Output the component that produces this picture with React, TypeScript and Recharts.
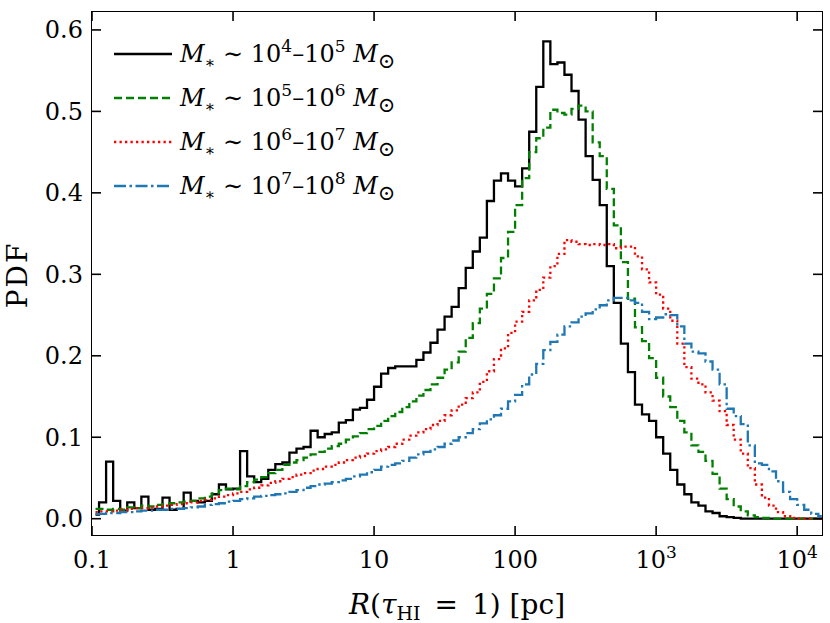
import { Legend, Line, LineChart, XAxis, YAxis } from "recharts";

// histogram bins: log10(R/pc) from -1, width 0.05 dex
const BIN_LOG_START = -1;
const BIN_LOG_WIDTH = 0.05;

const pdfM4to5 = [
  0.005, 0.02, 0.07, 0.022, 0.01, 0.02, 0.013, 0.027, 0.011, 0.012,
  0.026, 0.011, 0.012, 0.032, 0.022, 0.02, 0.022, 0.03, 0.042, 0.036,
  0.037, 0.083, 0.052, 0.045, 0.049, 0.06, 0.067, 0.069, 0.081, 0.086,
  0.088, 0.108, 0.1, 0.104, 0.106, 0.118, 0.121, 0.134, 0.136, 0.146,
  0.162, 0.178, 0.185, 0.187, 0.187, 0.187, 0.195, 0.204, 0.216, 0.232,
  0.248, 0.26, 0.283, 0.308, 0.328, 0.345, 0.39, 0.415, 0.424, 0.415,
  0.408, 0.43, 0.475, 0.53, 0.586, 0.558, 0.56, 0.545, 0.525, 0.49,
  0.445, 0.416, 0.385, 0.31, 0.265, 0.215, 0.18, 0.14, 0.128, 0.12,
  0.1, 0.08, 0.06, 0.042, 0.03, 0.02, 0.016, 0.009, 0.007, 0.003,
  0.002, 0.001, 0, 0, 0, 0, 0, 0, 0, 0,
  0, 0, 0, 0,
];

const pdfM5to6 = [
  0.012, 0.012, 0.011, 0.012, 0.011, 0.014, 0.013, 0.016, 0.015, 0.017,
  0.018, 0.019, 0.02, 0.021, 0.022, 0.025, 0.027, 0.031, 0.035, 0.037,
  0.036, 0.04, 0.045, 0.048, 0.051, 0.056, 0.06, 0.066, 0.069, 0.072,
  0.075, 0.079, 0.082, 0.086, 0.089, 0.092, 0.097, 0.101, 0.105, 0.11,
  0.114, 0.12, 0.126, 0.131, 0.137, 0.144, 0.151, 0.158, 0.165, 0.173,
  0.183, 0.192, 0.205, 0.222, 0.24, 0.258, 0.276, 0.295, 0.32, 0.352,
  0.385, 0.418, 0.45, 0.467, 0.48, 0.502, 0.498, 0.496, 0.503, 0.507,
  0.5, 0.462, 0.445, 0.405, 0.36, 0.315, 0.27, 0.235, 0.218, 0.197,
  0.173, 0.15, 0.137, 0.12, 0.106, 0.09, 0.082, 0.071, 0.055, 0.037,
  0.024, 0.015, 0.009, 0.004, 0.002, 0.001, 0, 0, 0, 0,
  0, 0, 0, 0,
];

const pdfM6to7 = [
  0.008, 0.009, 0.009, 0.01, 0.011, 0.012, 0.013, 0.013, 0.014, 0.015,
  0.016, 0.017, 0.018, 0.019, 0.02, 0.022, 0.023, 0.025, 0.027, 0.029,
  0.031, 0.033, 0.036, 0.038, 0.041, 0.044, 0.046, 0.049, 0.051, 0.054,
  0.056, 0.059, 0.061, 0.064, 0.066, 0.069, 0.072, 0.075, 0.077, 0.08,
  0.083, 0.085, 0.088, 0.092, 0.097, 0.102, 0.106, 0.11, 0.115, 0.12,
  0.127, 0.133, 0.14, 0.148, 0.155, 0.168, 0.181, 0.196, 0.209, 0.228,
  0.242, 0.254, 0.268, 0.281, 0.296, 0.31, 0.325, 0.342, 0.34, 0.337,
  0.336, 0.337, 0.336, 0.337, 0.332, 0.334, 0.334, 0.322, 0.306, 0.29,
  0.275, 0.258, 0.243, 0.215, 0.186, 0.172, 0.165, 0.155, 0.145, 0.132,
  0.115, 0.097, 0.08, 0.062, 0.042, 0.026, 0.016, 0.008, 0.003, 0.001,
  0, 0, 0, 0,
];

const pdfM7to8 = [
  0.006, 0.006, 0.007, 0.007, 0.008, 0.008, 0.009, 0.01, 0.01, 0.011,
  0.011, 0.012, 0.012, 0.013, 0.014, 0.015, 0.017, 0.018, 0.019, 0.021,
  0.022, 0.024, 0.025, 0.027, 0.028, 0.029, 0.03, 0.031, 0.033, 0.035,
  0.038, 0.04, 0.042, 0.043, 0.045, 0.047, 0.049, 0.052, 0.054, 0.057,
  0.06, 0.064, 0.066, 0.068, 0.071, 0.075, 0.079, 0.082, 0.085, 0.088,
  0.092, 0.096, 0.1, 0.105, 0.11, 0.117, 0.122, 0.127, 0.135, 0.144,
  0.152, 0.165, 0.177, 0.19, 0.207, 0.217, 0.226, 0.236, 0.241, 0.248,
  0.252, 0.257, 0.262, 0.268, 0.271, 0.271, 0.268, 0.265, 0.254, 0.245,
  0.247, 0.251, 0.25, 0.236, 0.215, 0.205, 0.203, 0.193, 0.183, 0.165,
  0.135, 0.126, 0.116, 0.09, 0.068, 0.066, 0.058, 0.046, 0.033, 0.024,
  0.017, 0.011, 0.006, 0.003,
];

const xTicks = [0.1, 1, 10, 100, 1000, 10000];
const xTickBase = ["0.1", "1", "10", "100", "10", "10"];
const xTickExp = ["", "", "", "", "3", "4"];
const yTicks = [0, 0.1, 0.2, 0.3, 0.4, 0.5, 0.6];

const series = [
  { key: "m4", values: pdfM4to5, color: "#000000", dash: undefined, lo: "4", hi: "5" },
  { key: "m5", values: pdfM5to6, color: "#008000", dash: "8 4", lo: "5", hi: "6" },
  { key: "m6", values: pdfM6to7, color: "#ff0000", dash: "2.3 3.2", lo: "6", hi: "7" },
  { key: "m7", values: pdfM7to8, color: "#1f77b4", dash: "12 3.5 2.5 3.5", lo: "7", hi: "8" },
];

const data = pdfM4to5.map((_, i) => {
  const row: Record<string, number> = {
    r: Math.pow(10, BIN_LOG_START + BIN_LOG_WIDTH * (i + 0.5)),
  };
  series.forEach((s) => (row[s.key] = s.values[i]));
  return row;
});

const FONT = "'DejaVu Serif', serif";
const W = 830;
const H = 623;
const PLOT_LEFT = 92;
const PLOT_TOP = 12;
const PLOT_RIGHT = 822;
const PLOT_BOTTOM = 535;
const TICK_LEN = 9;

function XTick({ x, payload }: any) {
  const i = xTicks.indexOf(payload.value);
  return (
    <g>
      <line x1={x} x2={x} y1={PLOT_BOTTOM} y2={PLOT_BOTTOM - TICK_LEN} stroke="#000" strokeWidth={1.6} />
      <line x1={x} x2={x} y1={PLOT_TOP} y2={PLOT_TOP + TICK_LEN} stroke="#000" strokeWidth={1.6} />
      <text x={x} y={PLOT_BOTTOM + 33} textAnchor="middle" fontFamily={FONT} fontSize={24} fill="#000">
        {xTickBase[i]}
        {xTickExp[i] && (
          <tspan dy={-10} fontSize={17}>
            {xTickExp[i]}
          </tspan>
        )}
      </text>
    </g>
  );
}

function YTick({ y, payload }: any) {
  return (
    <g>
      <line x1={PLOT_LEFT} x2={PLOT_LEFT + TICK_LEN} y1={y} y2={y} stroke="#000" strokeWidth={1.6} />
      <line x1={PLOT_RIGHT} x2={PLOT_RIGHT - TICK_LEN} y1={y} y2={y} stroke="#000" strokeWidth={1.6} />
      <text x={PLOT_LEFT - 9} y={y + 8.5} textAnchor="end" fontFamily={FONT} fontSize={24} fill="#000">
        {payload.value.toFixed(1)}
      </text>
    </g>
  );
}

function LegendBox() {
  return (
    <div style={{ fontFamily: FONT, fontSize: 24, color: "#000" }}>
      {series.map((s) => (
        <div key={s.key} style={{ display: "flex", alignItems: "center", height: 44, whiteSpace: "nowrap" }}>
          <svg width={58} height={10} style={{ flex: "none" }}>
            <line x1={0} x2={58} y1={5} y2={5} stroke={s.color} strokeWidth={2.3} strokeDasharray={s.dash} />
          </svg>
          <span style={{ marginLeft: 8 }}>
            <i>M</i>
            <span style={{ fontSize: 16, position: "relative", top: 6 }}>∗</span> ∼ 10
            <span style={{ fontSize: 17, position: "relative", top: -10 }}>{s.lo}</span>–10
            <span style={{ fontSize: 17, position: "relative", top: -10 }}>{s.hi}</span> <i>M</i>
            <span style={{ fontSize: 21, position: "relative", top: 6 }}>⊙</span>
          </span>
        </div>
      ))}
    </div>
  );
}

export default function App() {
  return (
    <div style={{ position: "absolute", left: 0, top: 0, width: W, height: H, background: "#fff" }}>
      <LineChart
        width={W}
        height={H}
        data={data}
        margin={{ top: PLOT_TOP, right: W - PLOT_RIGHT, left: 0, bottom: 0 }}
      >
        <XAxis
          dataKey="r"
          type="number"
          scale="log"
          domain={[0.1, 15000]}
          allowDataOverflow
          ticks={xTicks}
          interval={0}
          height={H - PLOT_BOTTOM}
          tickSize={0}
          tickMargin={0}
          tickLine={false}
          axisLine={false}
          tick={<XTick />}
          label={{
            content: () => (
              <text x={457} y={614} textAnchor="middle" fontFamily={FONT} fontSize={28} fill="#000">
                <tspan fontStyle="italic">R</tspan>(<tspan fontStyle="italic">τ</tspan>
                <tspan dy={6} fontSize={19}>HI</tspan>
                <tspan dy={-6}>{"\u2002=\u20021) [pc]"}</tspan>
              </text>
            ),
          }}
        />
        <YAxis
          type="number"
          domain={[-0.02, 0.622]}
          allowDataOverflow
          ticks={yTicks}
          interval={0}
          width={PLOT_LEFT}
          tickSize={0}
          tickMargin={0}
          tickLine={false}
          axisLine={false}
          tick={<YTick />}
          label={{
            content: () => (
              <text
                x={17}
                y={275}
                transform="rotate(-90 17 275)"
                textAnchor="middle"
                dy="0.35em"
                fontFamily={FONT}
                fontSize={28}
                letterSpacing={2}
                fill="#000"
              >
                PDF
              </text>
            ),
          }}
        />
        <Legend
          layout="vertical"
          align="center"
          verticalAlign="middle"
          content={<LegendBox />}
          wrapperStyle={{ left: 114, top: 32, width: "auto", height: "auto" }}
        />
        {series.map((s) => (
          <Line
            key={s.key}
            type="step"
            dataKey={s.key}
            stroke={s.color}
            strokeWidth={2.3}
            strokeDasharray={s.dash}
            dot={false}
            activeDot={false}
            isAnimationActive={false}
          />
        ))}
      </LineChart>
      <div
        style={{
          position: "absolute",
          left: PLOT_LEFT - 0.9,
          top: PLOT_TOP - 0.9,
          width: PLOT_RIGHT - PLOT_LEFT + 1.8,
          height: PLOT_BOTTOM - PLOT_TOP + 1.8,
          border: "1.8px solid #000",
          boxSizing: "border-box",
          pointerEvents: "none",
        }}
      />
    </div>
  );
}
